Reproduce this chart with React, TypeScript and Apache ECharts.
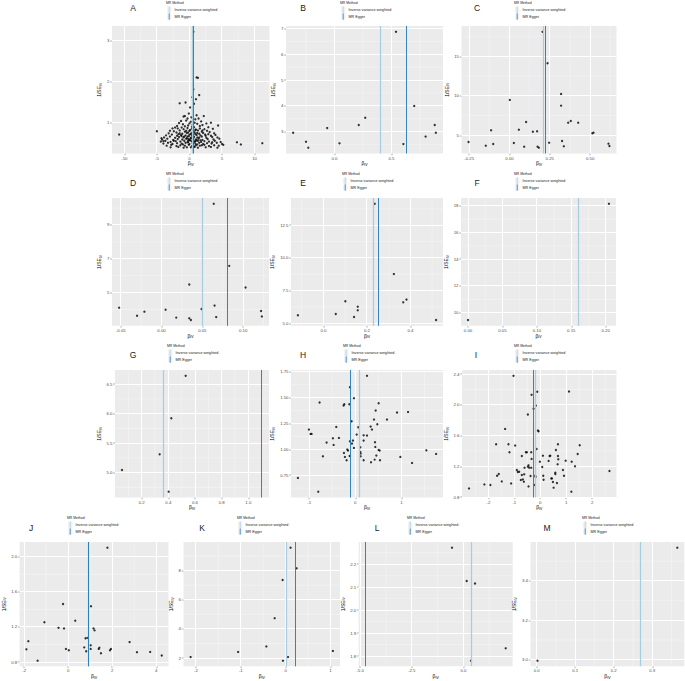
import React, { useEffect, useRef } from "react";
import * as echarts from "echarts";

// ---------- DATA ----------
// Panel A
const aX = [0.6,1.1,1.3,0.6,1.5,0.45,1.0,-1.5,-0.6,0.7,0.1,-0.1,-0.7,2.2,1.1,-0.9,0.3,-0.3,0.9,3.3,4.4,-5.0,-10.8,-1.9,-2.2,-1.3,0.2,1.8,2.6,-0.5,1.4,0.0,0.8,-1.0,2.0,-1.6,1.2,0.5,-0.2,2.9,-2.6,3.6,-3.0,7.3,7.9,11.2,-4.3,-4.0,
  -1.8,-0.9,-0.3,0.4,1.0,1.6,2.3,-1.2,0.1,0.7,
  -2.4,-1.5,-0.7,0.0,0.6,1.3,1.9,2.7,3.1,-0.2,0.9,
  -3.2,-2.0,-1.1,-0.4,0.3,0.8,1.5,2.1,2.9,3.8,-1.7,0.5,
  -3.6,-2.7,-1.9,-1.3,-0.6,0.0,0.4,1.1,1.7,2.4,3.3,4.0,-0.1,0.9,
  -3.9,-3.0,-2.2,-1.6,-0.9,-0.3,0.2,0.7,1.2,1.9,2.6,3.5,4.3,0.5,-1.2,
  -4.2,-3.4,-2.5,-1.8,-1.1,-0.5,0.1,0.6,1.0,1.4,2.0,2.8,3.7,4.6,-0.2,0.3,1.7,
  -4.4,-3.7,-2.9,-2.1,-1.4,-0.8,-0.2,0.3,0.8,1.3,1.8,2.3,3.0,3.9,4.8,0.0,0.6,1.1,
  -4.0,-3.3,-2.6,-1.9,-1.2,-0.6,0.0,0.5,0.9,1.5,2.1,2.7,3.4,4.2,5.0,-0.3,1.2,
  -3.5,-2.8,-2.0,-1.4,-0.7,-0.1,0.4,1.0,1.6,2.3,3.0,3.8,4.5,5.2,0.7,
  -2.9,-1.7,-0.9,0.2,0.8,1.3,2.5,3.3,4.3,-0.4,
  0.2,0.6,-0.4,1.5,0.9,-0.8,1.2,-0.5,0.4,1.6,-0.7,2.5,-2.4,-1.5,2.0,-0.1,0.5,1.9,-1.0,3.5];
const aY = [3.21,2.10,2.09,1.81,1.67,1.62,1.57,1.47,1.49,1.46,1.37,1.22,1.16,1.16,1.18,1.15,1.13,1.10,1.08,1.00,0.93,0.79,0.71,0.92,0.88,1.04,1.02,1.03,0.98,1.05,1.10,0.98,1.00,0.96,0.94,0.99,0.97,0.95,0.93,0.89,0.86,0.85,0.80,0.52,0.47,0.50,0.62,0.55,
  0.86,0.84,0.87,0.85,0.83,0.86,0.84,0.88,0.82,0.89,
  0.79,0.81,0.78,0.80,0.79,0.81,0.78,0.80,0.77,0.76,0.82,
  0.74,0.76,0.73,0.75,0.74,0.76,0.73,0.75,0.72,0.74,0.72,0.77,
  0.69,0.71,0.68,0.70,0.69,0.71,0.68,0.70,0.69,0.71,0.68,0.70,0.67,0.72,
  0.64,0.66,0.63,0.65,0.64,0.66,0.63,0.65,0.64,0.66,0.63,0.65,0.64,0.62,0.67,
  0.59,0.61,0.58,0.60,0.59,0.61,0.58,0.60,0.59,0.61,0.58,0.60,0.59,0.61,0.57,0.62,0.57,
  0.54,0.56,0.53,0.55,0.54,0.56,0.53,0.55,0.54,0.56,0.53,0.55,0.54,0.56,0.53,0.57,0.52,0.57,
  0.49,0.51,0.48,0.50,0.49,0.51,0.48,0.50,0.49,0.51,0.48,0.50,0.49,0.51,0.48,0.52,0.47,
  0.44,0.46,0.43,0.45,0.44,0.46,0.43,0.45,0.44,0.46,0.43,0.45,0.44,0.46,0.42,
  0.40,0.41,0.39,0.40,0.41,0.39,0.40,0.41,0.39,0.40,
  0.72,0.66,0.62,0.64,0.55,0.66,0.75,0.80,0.90,0.92,0.91,0.68,0.56,0.74,0.81,0.60,0.53,0.45,0.47,0.52];
const aIvw = 0.50, aEgger = 0.52;
const aXTicks = ["-10", "-5", "0", "5", "10"], aYTicks = ["1", "2", "3"];

// Panel B
const bX = [-0.363,-0.25,-0.23,-0.064,0.044,0.213,0.27,0.54,0.605,0.70,0.80,0.88,0.89];
const bY = [2.96,2.61,2.38,3.14,2.55,3.26,3.54,6.87,2.52,4.0,2.81,3.26,2.96];
const bIvw = 0.40, bEgger = 0.626;
const bXTicks = ["0.0", "0.5"], bYTicks = ["3", "4", "5", "6", "7"];

// Panel C
const cX = [-0.254,-0.147,-0.114,-0.101,0.002,0.027,0.058,0.091,0.103,0.145,0.171,0.174,0.182,0.205,0.236,0.246,0.32,0.32,0.326,0.337,0.364,0.38,0.426,0.514,0.521,0.614,0.62];
const cY = [4.15,3.69,5.64,3.9,9.49,4.03,5.72,3.56,6.69,5.47,5.51,3.56,3.43,18.14,14.15,4.07,10.25,8.77,4.28,3.6,6.61,6.82,6.61,5.25,5.34,3.94,3.64];
const cIvw = 0.213, cEgger = 0.221;
const cXTicks = ["-0.25", "0.00", "0.25", "0.50"], cYTicks = ["5", "10", "15"];

// Panel D
const dX = [-0.052,-0.030,-0.021,0.005,0.018,0.034,0.034,0.036,0.049,0.064,0.065,0.067,0.083,0.103,0.122,0.123];
const dY = [4.11,3.63,3.87,3.99,3.52,5.48,3.48,3.38,4.03,10.25,4.23,3.55,6.58,5.30,3.91,3.59];
const dIvw = 0.052, dEgger = 0.078;
const dXTicks = ["-0.05", "0.00", "0.05", "0.10"], dYTicks = ["5", "7", "9"];

// Panel E
const eX = [-0.117,0.057,0.101,0.141,0.158,0.158,0.236,0.324,0.367,0.382,0.518];
const eY = [5.61,5.71,6.68,5.48,6.27,5.99,14.13,8.76,6.6,6.81,5.25];
const eIvw = 0.228, eEgger = 0.25;
const eXTicks = ["0.0", "0.2", "0.4"], eYTicks = ["5.0", "7.5", "10.0", "12.5"];

// Panel F
const fX = [0.0, 0.2048];
const fY = [9.45, 18.15];
const fIvw = 0.1618, fEgger = null;
const fXTicks = ["0.00", "0.05", "0.10", "0.15", "0.20"], fYTicks = ["10", "12", "14", "16", "18"];

// Panel G
const gX = [0.0525, 0.335, 0.4025, 0.4225, 0.53];
const gY = [5.045, 5.311, 4.677, 5.922, 6.641];
const gIvw = 0.365, gEgger = 1.1025;
const gXTicks = ["0.2", "0.4", "0.6", "0.8", "1.0"], gYTicks = ["5.0", "5.5", "6.0", "6.5"];

// Panel H
const hX = [0.254,-0.116,-0.029,-0.775,-0.239,-0.254,-0.130,0.507,0.442,0.906,1.145,-0.080,0.406,0.688,0.478,-0.413,0.065,0.333,-1.007,0.362,-0.971,-0.949,0.029,0.181,0.254,-0.486,-0.355,-0.623,-0.471,-0.116,-0.051,-0.072,0.428,0.181,0.435,-0.029,0.109,0.507,0.529,-0.174,-0.159,-0.246,-0.225,-0.188,-0.123,0.109,0.116,0.116,0.457,0.420,-0.703,0.181,0.341,0.536,0.978,1.232,1.543,1.754,-1.246,-0.804];
const hY = [1.710,1.600,1.494,1.452,1.435,1.423,1.435,1.445,1.374,1.355,1.361,1.271,1.287,1.287,1.242,1.216,1.213,1.219,1.190,1.190,1.148,1.148,1.142,1.135,1.132,1.106,1.110,1.065,1.042,1.077,1.084,1.055,1.068,1.084,1.023,1.013,1.019,0.994,0.987,0.997,0.987,0.965,0.926,0.894,0.935,0.974,0.958,0.932,0.939,0.900,0.932,0.894,0.874,0.894,0.926,0.868,0.990,0.955,0.723,0.590];
const hIvw = 0.094, hEgger = -0.109;
const hXTicks = ["-1", "0", "1"], hYTicks = ["0.75", "1.00", "1.25", "1.50", "1.75"];

// Panel I
const iX = [-2.748,-2.155,-1.923,-1.703,-1.665,-1.600,-1.484,-1.355,-1.226,-1.187,-1.123,-1.032,-0.968,-0.903,-0.865,-0.813,-0.748,-0.710,-0.710,-0.671,-0.632,-0.619,-0.606,-0.555,-0.516,-0.477,-0.477,-0.452,-0.452,-0.426,-0.374,-0.348,-0.348,-0.335,-0.335,-0.258,-0.219,-0.194,-0.181,-0.168,-0.142,-0.116,-0.090,-0.065,-0.013,0.077,0.103,0.116,0.129,0.323,0.361,0.387,0.426,0.452,0.490,0.516,0.581,0.581,0.606,0.645,0.671,0.684,0.684,0.697,0.877,0.916,0.981,1.110,1.213,1.200,1.342,1.445,1.523,2.671];
const iY = [0.913,0.965,0.957,1.487,1.078,1.100,1.004,1.687,1.487,1.383,0.978,2.378,1.470,1.152,1.126,1.130,1.022,1.087,1.335,1.030,1.000,1.096,1.183,1.383,1.383,1.874,1.196,1.213,0.939,1.183,1.074,1.383,1.183,1.296,2.130,1.948,0.957,1.078,1.061,1.991,1.426,2.170,1.665,1.657,1.261,1.191,1.339,1.078,1.026,1.270,1.335,1.339,1.043,1.043,0.996,0.922,1.117,1.100,1.413,0.983,1.226,1.487,1.335,1.291,1.152,1.078,1.274,2.174,1.261,0.870,1.200,1.361,1.474,1.139];
const iIvw = -0.194, iEgger = -0.258;
const iXTicks = ["-2", "-1", "0", "1", "2"], iYTicks = ["0.8", "1.2", "1.6", "2.0", "2.4"];

// Panel J
const jX = [-1.898,-1.810,-1.387,-1.080,-0.438,-0.234,-0.190,-0.102,0.029,0.321,0.730,0.788,0.818,0.876,1.022,1.022,1.036,1.153,1.197,1.387,1.416,1.489,1.781,1.898,1.942,2.788,3.124,3.723,4.248];
const jY = [0.945,1.038,0.815,1.254,1.190,1.462,1.183,0.949,0.934,1.272,0.967,1.071,0.923,1.075,0.990,0.949,1.436,1.183,1.161,0.949,0.964,0.900,2.105,0.934,0.949,1.027,0.912,0.915,0.874];
const jIvw = 0.905, jEgger = 0.934;
const jXTicks = ["-2", "0", "2", "4"], jYTicks = ["0.8", "1.2", "1.6", "2.0"];

// Panel K
const kX = [-2.12,-1.06,-0.43,-0.245,-0.067,-0.06,0.052,0.11,0.245,1.054];
const kY = [2.07,2.42,2.8,4.74,7.36,1.82,2.07,9.58,8.16,2.49];
const kIvw = 0.007, kEgger = 0.215;
const kXTicks = ["-2", "-1", "0", "1"], kYTicks = ["2", "4", "6", "8"];

// Panel L
const lX = [-0.55, 0.16, 0.565, 0.37, 2.05];
const lY = [2.272, 2.127, 2.116, 1.78, 1.834];
const lIvw = 0.40, lEgger = -4.73;
const lXTicks = ["-5.0", "-2.5", "0.0"], lYTicks = ["1.8", "1.9", "2.0", "2.1", "2.2"];

// Panel M
const mX = [0.002, 0.365];
const mY = [2.995, 3.569];
const mIvw = 0.274, mEgger = null;
const mXTicks = ["0.0", "0.1", "0.2", "0.3"], mYTicks = ["3.0", "3.2", "3.4"];

const METHODS = ["Inverse variance weighted", "MR Egger"];

// ---------- STYLE / LAYOUT ----------
const FONT = "Liberation Sans, Arial, Helvetica, sans-serif";
const IVW_COLOR = "#A6CEE3";
const EGGER_COLOR = "#1F78B4";
const TICK_FONT = 4.3;

const PANELS = [
  { letter: "A", xs: aX, ys: aY, ivw: aIvw, egger: aEgger, xt: aXTicks, yt: aYTicks, box: [112, 26, 269.5, 153.5], lp: [133, 8], gp: [166, 3] },
  { letter: "B", xs: bX, ys: bY, ivw: bIvw, egger: bEgger, xt: bXTicks, yt: bYTicks, box: [286, 26, 443, 153.5], lp: [303, 8], gp: [340, 3] },
  { letter: "C", xs: cX, ys: cY, ivw: cIvw, egger: cEgger, xt: cXTicks, yt: cYTicks, box: [461.5, 26, 616.5, 153.5], lp: [477, 8], gp: [514, 3] },
  { letter: "D", xs: dX, ys: dY, ivw: dIvw, egger: dEgger, xt: dXTicks, yt: dYTicks, box: [112, 198, 269, 325.8], lp: [133, 183], gp: [166, 174] },
  { letter: "E", xs: eX, ys: eY, ivw: eIvw, egger: eEgger, xt: eXTicks, yt: eYTicks, box: [291, 198, 443, 325.8], lp: [303, 183], gp: [342, 174] },
  { letter: "F", xs: fX, ys: fY, ivw: fIvw, egger: fEgger, xt: fXTicks, yt: fYTicks, box: [461, 198, 616, 325.8], lp: [477, 183], gp: [514, 174] },
  { letter: "G", xs: gX, ys: gY, ivw: gIvw, egger: gEgger, xt: gXTicks, yt: gYTicks, box: [115, 370, 269, 497.5], lp: [133, 355], gp: [167, 346] },
  { letter: "H", xs: hX, ys: hY, ivw: hIvw, egger: hEgger, xt: hXTicks, yt: hYTicks, box: [291, 370, 443, 497.5], lp: [303, 355], gp: [343, 346] },
  { letter: "I", xs: iX, ys: iY, ivw: iIvw, egger: iEgger, xt: iXTicks, yt: iYTicks, box: [462, 370, 616.5, 497.5], lp: [476, 355], gp: [514, 346] },
  { letter: "J", xs: jX, ys: jY, ivw: jIvw, egger: jEgger, xt: jXTicks, yt: jYTicks, box: [14, 542, 168.5, 669.5], lp: [31, 528], gp: [67, 518] },
  { letter: "K", xs: kX, ys: kY, ivw: kIvw, egger: kEgger, xt: kXTicks, yt: kYTicks, box: [183.5, 542, 340, 669.5], lp: [202, 528], gp: [237, 518] },
  { letter: "L", xs: lX, ys: lY, ivw: lIvw, egger: lEgger, xt: lXTicks, yt: lYTicks, box: [358.7, 542, 512.7, 669.5], lp: [377, 528], gp: [407, 518] },
  { letter: "M", xs: mX, ys: mY, ivw: mIvw, egger: mEgger, xt: mXTicks, yt: mYTicks, box: [530.5, 542, 684.3, 669.5], lp: [547, 528], gp: [582, 518] },
];

function expandRange(vals: number[]): [number, number] {
  const mn = Math.min(...vals), mx = Math.max(...vals);
  const pad = (mx - mn) * 0.05;
  return [mn - pad, mx + pad];
}

function minorsOf(majors: number[], r: [number, number]): number[] {
  const out: number[] = [];
  if (majors.length < 2) return out;
  const step = majors[1] - majors[0];
  for (let v = majors[0] - step / 2 - step * 4; v <= r[1]; v += step) {
    if (v >= r[0]) out.push(v);
  }
  return out;
}

function labelFor(ticks: string[]) {
  return (v: number) => {
    const t = ticks.find((s) => Math.abs(Number(s) - v) < 1e-7);
    return t === undefined ? "" : t;
  };
}

function labelWidth(s: string): number {
  let w = 0;
  for (const ch of s) w += ch === "." ? 0.278 : ch === "-" ? 0.333 : 0.556;
  return w * TICK_FONT;
}

const nameRich = {
  m: { fontSize: 5, fontFamily: FONT, color: "#000000" },
  s: { fontSize: 3.5, fontFamily: FONT, color: "#000000", padding: [3.5, 0, 0, 0] },
};

function snap(v: number, w: number): number {
  return w >= 0.9 ? Math.floor(v) + 0.5 : v;
}

function buildOption() {
  const grid: any[] = [];
  const xAxis: any[] = [];
  const yAxis: any[] = [];
  const series: any[] = [];
  const graphic: any[] = [];

  PANELS.forEach((p, i) => {
    const [l, t, r, b] = p.box;
    grid.push({ left: l, top: t, width: r - l, height: b - t, show: true, backgroundColor: "#EBEBEB", borderWidth: 0, containLabel: false });
    const lineVals = [p.ivw, p.egger].filter((v) => v !== null) as number[];
    const xr = expandRange([...p.xs, ...lineVals]);
    const yr = expandRange(p.ys);
    const xt = p.xt.map(Number);
    const yt = p.yt.map(Number);
    const xm = minorsOf(xt, xr);
    const ym = minorsOf(yt, yr);
    const maxW = Math.max(...p.yt.map(labelWidth));

    xAxis.push({
      type: "value", gridIndex: i, min: xr[0], max: xr[1], position: "bottom",
      axisLine: { show: false, onZero: false },
      axisTick: { show: true, length: 1.8, customValues: xt, lineStyle: { color: "#333333", width: 0.4 } },
      axisLabel: { show: true, customValues: xt, formatter: labelFor(p.xt), fontSize: TICK_FONT, color: "#4D4D4D", fontFamily: FONT, margin: 2.5 },
      splitLine: { show: false }, minorSplitLine: { show: false }, minorTick: { show: false },
      name: "{m|β}{s|IV}", nameLocation: "middle", nameGap: 5.5,
      nameTextStyle: { color: "#000000", rich: nameRich },
    });
    yAxis.push({
      type: "value", gridIndex: i, min: yr[0], max: yr[1], position: "left",
      axisLine: { show: false, onZero: false },
      axisTick: { show: true, length: 1.8, customValues: yt, lineStyle: { color: "#333333", width: 0.4 } },
      axisLabel: { show: true, customValues: yt, formatter: labelFor(p.yt), fontSize: TICK_FONT, color: "#4D4D4D", fontFamily: FONT, margin: 2.5 },
      splitLine: { show: false }, minorSplitLine: { show: false }, minorTick: { show: false },
      name: "{m|1/SE}{s|IV}", nameLocation: "middle", nameGap: 3.8 + maxW,
      nameTextStyle: { color: "#000000", rich: nameRich },
    });

    // panel grid lines (ggplot grey theme): custom series positioned through the axis scales
    // each item: [value, orientation (0 = vertical, 1 = horizontal), major flag]
    const gridData: number[][] = [
      ...xm.map((v) => [v, 0, 0]),
      ...ym.map((v) => [v, 1, 0]),
      ...xt.map((v) => [v, 0, 1]),
      ...yt.map((v) => [v, 1, 1]),
    ];
    const xMid = (xr[0] + xr[1]) / 2;
    const yMid = (yr[0] + yr[1]) / 2;
    series.push({
      type: "custom", xAxisIndex: i, yAxisIndex: i, z: 1, silent: true,
      data: gridData,
      encode: { x: 0, y: 1 },
      renderItem: (params: any, api: any) => {
        const cs = params.coordSys;
        const v = api.value(0);
        const orient = api.value(1);
        const major = api.value(2) === 1;
        const w = major ? 1 : 0.5;
        const color = major ? "#FFFFFF" : "#F7F7F7";
        if (orient === 0) {
          const px = snap(api.coord([v, yMid])[0], w);
          return { type: "line", silent: true, shape: { x1: px, y1: cs.y, x2: px, y2: cs.y + cs.height }, style: { stroke: color, lineWidth: w } };
        }
        const py = snap(api.coord([xMid, v])[1], w);
        return { type: "line", silent: true, shape: { x1: cs.x, y1: py, x2: cs.x + cs.width, y2: py }, style: { stroke: color, lineWidth: w } };
      },
    });

    const mlData: any[] = [];
    if (p.ivw !== null) mlData.push({ xAxis: p.ivw, lineStyle: { color: IVW_COLOR, width: 1.3, type: "solid" } });
    if (p.egger !== null) mlData.push({ xAxis: p.egger, lineStyle: { color: EGGER_COLOR, width: 0.9, type: "solid" } });

    series.push({
      type: "scatter", xAxisIndex: i, yAxisIndex: i, z: 2,
      data: p.xs.map((x, k) => [x, p.ys[k]]),
      symbolSize: 2.3, itemStyle: { color: "#000000" }, silent: true,
      markLine: { silent: true, z: 3, symbol: ["none", "none"], label: { show: false }, emphasis: { disabled: true }, data: mlData },
    });

    graphic.push({
      type: "text", x: p.lp[0], y: p.lp[1], silent: true,
      style: { text: p.letter, fontSize: 8.5, fontFamily: FONT, fill: "#1A1A1A", align: "center", verticalAlign: "middle" },
    });
    const [gx, gy] = p.gp;
    graphic.push({
      type: "text", x: gx, y: gy, silent: true,
      style: { text: "MR Method", fontSize: 3.4, fontFamily: FONT, fill: "#1A1A1A", align: "left", verticalAlign: "middle" },
    });
    METHODS.forEach((m, k) => {
      const cy = gy + 6.7 + k * 6.8;
      graphic.push({ type: "rect", silent: true, shape: { x: gx + 1, y: cy - 3.2, width: 4.4, height: 6.4 }, style: { fill: "#F2F2F2" } });
      graphic.push({ type: "line", silent: true, shape: { x1: gx + 3.2, y1: cy - 3.2, x2: gx + 3.2, y2: cy + 3.2 }, style: { stroke: k === 0 ? IVW_COLOR : EGGER_COLOR, lineWidth: 0.8 } });
      graphic.push({
        type: "text", x: gx + 8.5, y: cy, silent: true,
        style: { text: m, fontSize: 3.7, fontFamily: FONT, fill: "#1A1A1A", align: "left", verticalAlign: "middle" },
      });
    });
  });

  return { animation: false, backgroundColor: "#FFFFFF", grid, xAxis, yAxis, series, graphic };
}

export default function App() {
  const ref = useRef<HTMLDivElement>(null);
  useEffect(() => {
    if (!ref.current) return;
    const chart = echarts.init(ref.current, undefined, { renderer: "svg" });
    chart.setOption(buildOption());
    return () => chart.dispose();
  }, []);
  return <div ref={ref} style={{ position: "fixed", left: 0, top: 0, width: 685, height: 681, background: "#fff" }} />;
}
